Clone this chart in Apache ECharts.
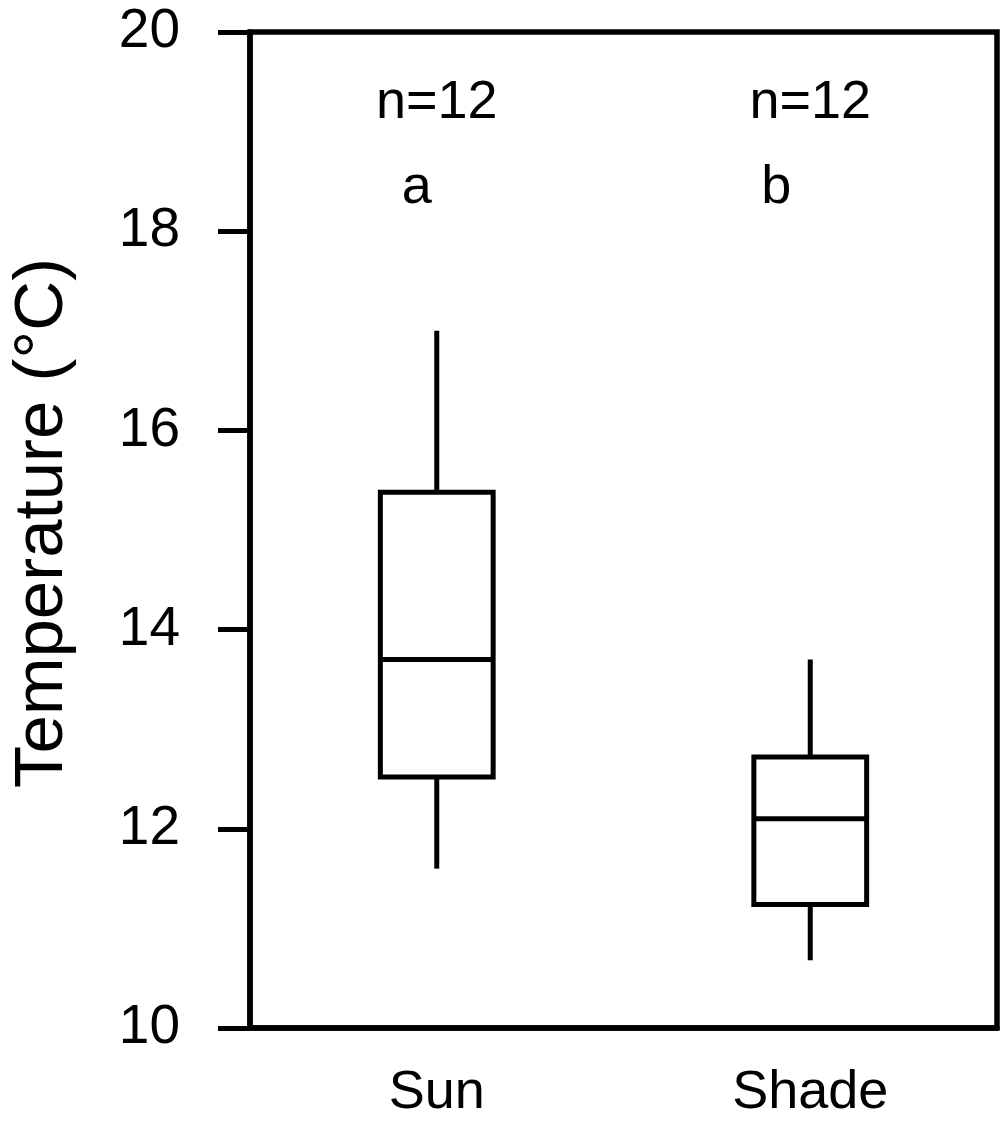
<!DOCTYPE html>
<html>
<head>
<meta charset="utf-8">
<script src="https://cdn.jsdelivr.net/npm/echarts@6/dist/echarts.min.js"></script>
<style>
html,body{margin:0;padding:0;background:#fff;}
#chart{width:1007px;height:1123px;}
</style>
</head>
<body>
<div id="chart"></div>
<script>
// ---- data ----
var categories = ['Sun', 'Shade'];
// [min, Q1, median, Q3, max]
var sunStats   = [11.6, 12.52, 13.7, 15.38, 17.0];
var shadeStats = [10.68, 11.24, 12.1, 12.72, 13.7];
var sampleLabels = ['n=12', 'n=12'];
var groupLetters = ['a', 'b'];
var yTicks = [10, 12, 14, 16, 18, 20];

var FONT = 'Liberation Sans, Arial, sans-serif';
var chart = echarts.init(document.getElementById('chart'));

var boxData = [sunStats, shadeStats].map(function (s, i) { return [i].concat(s); });

var option = {
  backgroundColor: '#fff',
  animation: false,
  grid: {
    left: 250, right: 10, top: 32, bottom: 95,
    show: true, borderColor: '#000', borderWidth: 5.5, backgroundColor: 'transparent'
  },
  xAxis: {
    type: 'category',
    data: categories,
    boundaryGap: true,
    axisLine: { show: true, lineStyle: { color: '#000', width: 5.5 } },
    axisTick: { show: false },
    axisLabel: { color: '#000', fontFamily: FONT, fontSize: 54, margin: 38 },
    splitLine: { show: false }
  },
  yAxis: {
    type: 'value',
    min: yTicks[0], max: yTicks[yTicks.length - 1], interval: 2,
    name: 'Temperature (\u00B0C)',
    nameLocation: 'middle',
    nameGap: 173,
    nameTextStyle: { color: '#000', fontFamily: FONT, fontSize: 69, padding: [0, 0, 0, 14] },
    axisLine: { show: true, lineStyle: { color: '#000', width: 5.5 } },
    axisTick: { show: true, inside: false, length: 32, lineStyle: { color: '#000', width: 5 } },
    axisLabel: { color: '#000', fontFamily: FONT, fontSize: 55, margin: 70 },
    splitLine: { show: false }
  },
  series: [
    {
      type: 'custom',
      data: boxData,
      encode: { x: 0, y: [1, 2, 3, 4, 5] },
      renderItem: function (params, api) {
        var idx = api.value(0);
        var lo = api.coord([idx, api.value(1)]);
        var q1 = api.coord([idx, api.value(2)]);
        var md = api.coord([idx, api.value(3)]);
        var q3 = api.coord([idx, api.value(4)]);
        var hi = api.coord([idx, api.value(5)]);
        var bw = api.size([1, 0])[0] * 0.302;
        var cx = q1[0];
        var style = { stroke: '#000', lineWidth: 5, fill: null };
        return {
          type: 'group',
          children: [
            { type: 'line', shape: { x1: cx, y1: q3[1], x2: cx, y2: hi[1] }, style: style },
            { type: 'line', shape: { x1: cx, y1: q1[1], x2: cx, y2: lo[1] }, style: style },
            { type: 'rect', shape: { x: cx - bw / 2, y: q3[1], width: bw, height: q1[1] - q3[1] },
              style: { stroke: '#000', lineWidth: 5, fill: '#fff' } },
            { type: 'line', shape: { x1: cx - bw / 2, y1: md[1], x2: cx + bw / 2, y2: md[1] }, style: style }
          ]
        };
      },
      z: 3
    },
    {
      type: 'custom',
      silent: true,
      data: categories.map(function (c, i) { return [i]; }),
      renderItem: function (params, api) {
        var i = params.dataIndex;
        var pN = api.coord([i, 19.29]);
        var pL = api.coord([i, 18.43]);
        var txt = { fill: '#000', font: '54px ' + FONT, align: 'center', verticalAlign: 'middle' };
        return {
          type: 'group',
          children: [
            { type: 'text', x: pN[0], y: pN[1],
              style: Object.assign({ text: sampleLabels[i] }, txt) },
            { type: 'text', x: pL[0] + (i === 0 ? -20 : -34), y: pL[1],
              style: Object.assign({ text: groupLetters[i] }, txt) }
          ]
        };
      },
      z: 4
    }
  ]
};
chart.setOption(option);
</script>
</body>
</html>
